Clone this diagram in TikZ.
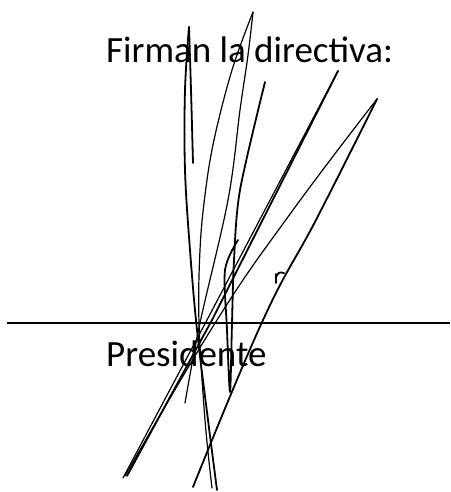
\documentclass[tikz,border=0pt]{standalone}
\usepackage{fontspec}
\setmainfont{Carlito}
\usetikzlibrary{positioning}

\begin{document}
\begin{tikzpicture}[x=1pt,y=-1pt,
ink/.style={line width=1.8pt,line cap=round,line join=round},
thin ink/.style={line width=1.2pt,line cap=round,line join=round},
label/.style={anchor=base west,inner sep=0pt,font=\fontsize{37}{40}\selectfont}
]
\useasboundingbox (0,0) rectangle (450,492);
\node[label] (T) at (106,63) {Firman la directiva:};
\coordinate (L) at (7,323);
\coordinate (R) at (450,323);
\draw[line width=1.5pt] (L) -- (R);
\node[label] (P) at (106,366) {Presidente};
\draw[ink] plot[smooth,tension=0.6] coordinates {(193,163) (191,90) (189,27)};
\draw[ink] plot[smooth,tension=0.6] coordinates {(189,27) (185,90) (185,170) (190,250) (197,330) (208,420) (217,490)};
\draw[thin ink] plot[smooth,tension=0.6] coordinates {(253,12) (232,70) (214,140) (205,195) (200,250) (199,323) (205,420) (212,488)};
\draw[thin ink] plot[smooth,tension=0.6] coordinates {(253,12) (248,55) (240,110) (228,200) (200,323) (185,403)};
\draw[thin ink] (338,71) -- (207,320) -- (123,478);
\draw[ink] (338,71) -- (212,320) -- (127,476);
\draw[ink] plot[smooth,tension=0.5] coordinates {(265,82) (240,190) (234,260) (232,323) (230,392) (227,330) (225,270) (238,240)};
\draw[thin ink] plot[smooth,tension=0.7] coordinates {(377,99) (293,210) (217,320) (125,476)};
\draw[ink] plot[smooth,tension=0.7] coordinates {(377,99) (317,218) (263,320) (193,487)};
\draw[ink] (276,283) -- (276,274);
\draw[ink] (276,277) .. controls (279,272) .. (284,273);
\end{tikzpicture}
\end{document}
